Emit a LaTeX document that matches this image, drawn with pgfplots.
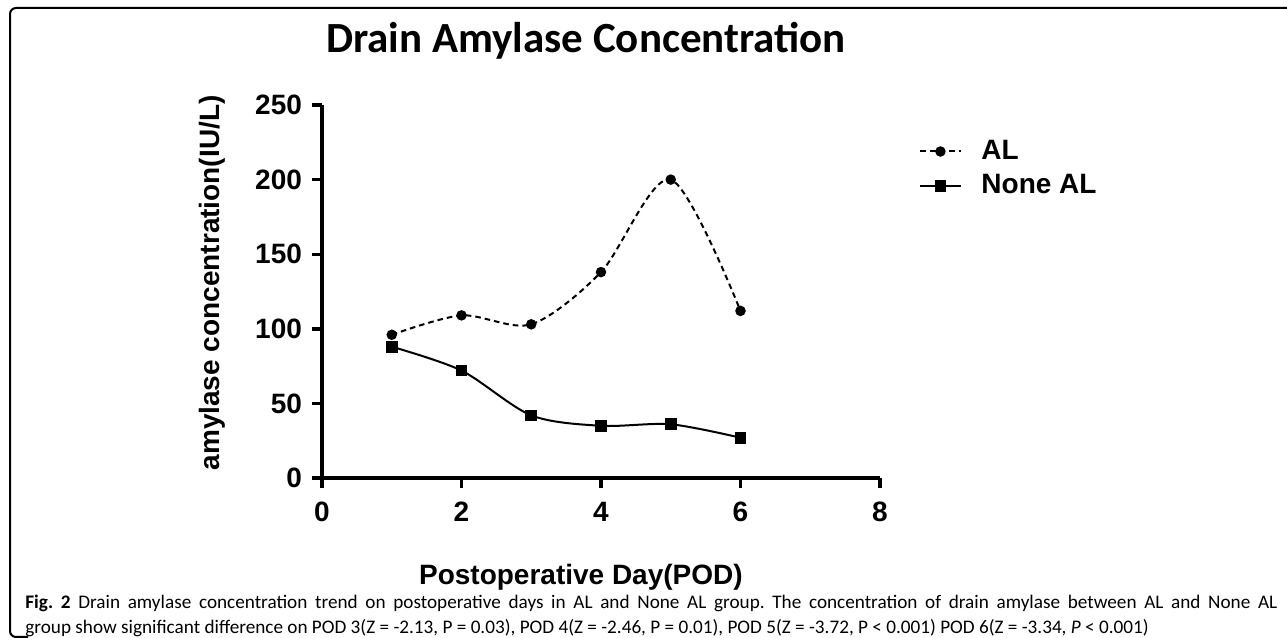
\documentclass[border=0pt]{standalone}
\usepackage{fontspec}
\setmainfont{Liberation Sans}
\newfontfamily\capfont{Carlito}
\usepackage{pgfplots}
\pgfplotsset{compat=1.18}
\begin{document}
\begin{tikzpicture}
\useasboundingbox (0pt,0pt) rectangle (643.5pt,319pt);
\draw[line width=1pt, rounded corners=3pt] (14pt,0.5pt) -- (5pt,0.5pt) -- (5pt,315pt) -- (643.5pt,315pt);
\node[font=\capfont\bfseries\fontsize{21.5}{24}\selectfont] at (293pt,298.5pt) {Drain Amylase Concentration};
\begin{axis}[
  at={(161pt,80pt)}, anchor=south west, scale only axis,
  width=279pt, height=186.5pt,
  xmin=0, xmax=8, ymin=0, ymax=250,
  axis lines=left, axis line style={-, line width=1.7pt},
  tick align=outside, major tick length=5pt,
  tick style={line width=1.7pt, black},
  xtick={0,2,4,6,8}, ytick={0,50,100,150,200,250},
  ticklabel style={font=\bfseries\fontsize{14}{16}\selectfont},
  xticklabel style={yshift=-3.5pt},
  yticklabel style={xshift=-1.5pt},
  /pgf/number format/assume math mode=true,
  clip=false,
  xlabel={Postoperative Day(POD)},
  ylabel={amylase concentration(IU/L)},
  label style={font=\bfseries\fontsize{14}{16}\selectfont},
  xlabel style={at={(axis description cs:0.464,-0.265)}, anchor=center},
  ylabel style={at={(axis description cs:-0.197,0.523)}, anchor=center},
  legend style={at={(axis description cs:1.07,0.917)}, anchor=north west,
    draw=none, fill=none, inner sep=0pt, row sep=2pt,
    font=\bfseries\fontsize{14}{16}\selectfont,
    /tikz/every odd column/.append style={column sep=8pt}},
  legend cell align=left,
  legend image code/.code={\draw[mark repeat=2,mark phase=2,#1] plot coordinates {(0pt,0pt) (10pt,0pt) (20pt,0pt)};},
]
\addplot[black, line width=1pt, dash pattern=on 2.8pt off 2pt, smooth, mark=*, mark size=2.1pt, mark options={solid}]
  coordinates {(1,96) (2,109) (3,103) (4,138) (5,200) (6,112)};
\addplot[black, line width=1pt, smooth, mark=square*, mark size=2.4pt]
  coordinates {(1,88) (2,72) (3,42) (4,35) (5,36) (6,27)};
\legend{AL, None AL}
\end{axis}
\node[anchor=base west, inner sep=0pt, font=\capfont\fontsize{9.6}{13}\selectfont] at (12.5pt,14.8pt)
  {\frenchspacing\makebox[626pt][s]{\textbf{Fig. 2} Drain amylase concentration trend on postoperative days in AL and None AL group. The concentration of drain amylase between AL and None AL}};
\node[anchor=base west, inner sep=0pt, font=\capfont\fontsize{9.6}{13}\selectfont] at (12.5pt,2.4pt)
  {\frenchspacing group show significant difference on POD 3(Z = -2.13, P = 0.03), POD 4(Z = -2.46, P = 0.01), POD 5(Z = -3.72, P < 0.001) POD 6(Z = -3.34, \textit{P} < 0.001)};
\end{tikzpicture}
\end{document}
